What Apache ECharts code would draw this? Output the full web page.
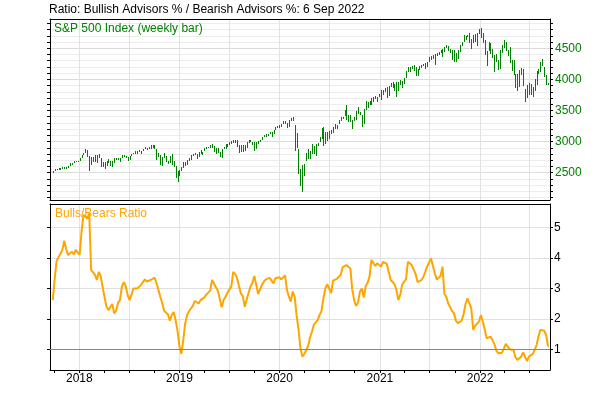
<!DOCTYPE html>
<html>
<head>
<meta charset="utf-8">
<script src="https://cdn.jsdelivr.net/npm/echarts@6/dist/echarts.min.js"></script>
<style>
html, body { margin: 0; padding: 0; background: #fff; }
#chart { width: 600px; height: 400px; }
</style>
</head>
<body>
<div id="chart"></div>
<script>
// weekly bars, one per week starting from this date
var startDate = "2017-09-26";

// S&P 500 weekly low / high
var spxLow = [
    2496, 2520, 2544, 2547, 2544, 2566, 2566, 2557, 2575, 2600, 2624, 2652, 2676, 2673,
    2682, 2737, 2780, 2808, 2759, 2533, 2622, 2676, 2675, 2647, 2741, 2585, 2593, 2553, 2610, 2660, 2612, 2594,
    2655, 2701, 2707, 2676, 2743, 2753, 2743, 2691, 2698, 2768, 2793, 2799, 2803, 2826, 2802, 2853, 2877, 2864,
    2877, 2886, 2904, 2874, 2710, 2755, 2628, 2603, 2737, 2670, 2631, 2649, 2621, 2593, 2409, 2347, 2444,
    2525, 2571, 2612, 2630, 2682, 2705, 2764, 2780, 2723, 2750, 2800, 2785, 2848, 2873, 2891, 2896, 2900, 2825,
    2801, 2822, 2750, 2728, 2876, 2885, 2911, 2952, 2960, 2975, 2981, 2914, 2822, 2825, 2834, 2853, 2892, 2979,
    2985, 2939, 2855, 2874, 2964, 2995, 3024, 3066, 3079, 3091, 3117, 3070, 3128, 3183, 3223, 3213,
    3236, 3282, 3280, 3214, 3236, 3338, 3328, 2855, 2901, 2478, 2280, 2192, 2447, 2680, 2720, 2727, 2797, 2797,
    2766, 2933, 2990, 3045, 2936, 2965, 3001, 3036, 3127, 3143, 3202, 3203, 3287, 3328, 3363, 3407, 3349, 3310,
    3310, 3209, 3323, 3350, 3440, 3419, 3233, 3279, 3511, 3543, 3582, 3595, 3634, 3680, 3636, 3720,
    3663, 3753, 3791, 3694, 3725, 3884, 3865, 3805, 3723, 3820, 3905, 3853, 3917, 4020, 4118, 4118, 4160, 4130,
    4057, 4060, 4155, 4185, 4222, 4165, 4200, 4282, 4306, 4321, 4233, 4378, 4385, 4422, 4367, 4442, 4508, 4456,
    4421, 4305, 4280, 4279, 4329, 4446, 4540, 4595, 4630, 4680, 4585, 4495, 4591, 4600, 4531, 4736,
    4662, 4582, 4395, 4222, 4451, 4401, 4335, 4114, 4285, 4157, 4161, 4424, 4506, 4450, 4372, 4269, 4128, 4062,
    3858, 3810, 3875, 4073, 3900, 3637, 3705, 3741, 3742, 3722, 3818, 3911, 4079, 4114, 4218, 4033, 3907, 3903
];
var spxHigh = [
    2519, 2552, 2557, 2575, 2582, 2588, 2598, 2590, 2605, 2657, 2652, 2680, 2695, 2692,
    2743, 2787, 2810, 2873, 2870, 2763, 2754, 2747, 2789, 2787, 2802, 2742, 2674, 2672, 2680, 2718, 2683, 2682,
    2742, 2743, 2742, 2742, 2779, 2791, 2774, 2747, 2764, 2804, 2816, 2848, 2841, 2863, 2855, 2877, 2916, 2900,
    2908, 2941, 2940, 2939, 2887, 2816, 2776, 2756, 2815, 2775, 2694, 2760, 2800, 2685, 2601, 2520, 2540,
    2598, 2675, 2670, 2708, 2738, 2776, 2795, 2814, 2796, 2830, 2860, 2836, 2896, 2910, 2917, 2947, 2955, 2932,
    2892, 2892, 2830, 2876, 2911, 2964, 2959, 2996, 3014, 3018, 3028, 3027, 2945, 2940, 2940, 2940, 2985, 3021,
    3022, 3000, 2990, 2993, 3009, 3027, 3066, 3098, 3121, 3127, 3154, 3150, 3183, 3226, 3248, 3259,
    3282, 3330, 3338, 3293, 3347, 3385, 3393, 3260, 3137, 2882, 2565, 2615, 2641, 2819, 2880, 2844, 2955, 2932,
    2955, 2981, 3068, 3211, 3233, 3155, 3155, 3165, 3187, 3233, 3279, 3272, 3352, 3387, 3400, 3510, 3588, 3425,
    3428, 3342, 3393, 3485, 3550, 3476, 3431, 3529, 3645, 3628, 3645, 3700, 3712, 3726, 3711, 3760,
    3826, 3823, 3859, 3870, 3887, 3937, 3950, 3928, 3960, 3960, 3983, 3978, 4020, 4130, 4191, 4194, 4218, 4238,
    4201, 4172, 4215, 4233, 4249, 4262, 4286, 4356, 4372, 4393, 4415, 4429, 4440, 4469, 4480, 4513, 4545, 4535,
    4485, 4465, 4466, 4429, 4475, 4559, 4608, 4718, 4700, 4718, 4744, 4652, 4713, 4731, 4741, 4808,
    4818, 4749, 4632, 4453, 4595, 4590, 4490, 4390, 4401, 4317, 4465, 4546, 4637, 4593, 4471, 4512, 4308, 4308,
    4082, 4091, 4158, 4177, 4168, 3838, 3913, 3946, 3918, 3875, 4013, 4140, 4167, 4280, 4325, 4203, 4062, 3948
];

// bullish % / bearish % ratio, same weeks
var bullBearRatio = [
    2.62, 3.30, 3.90, 4.03, 4.07, 4.27, 4.57, 4.30, 4.10, 4.10, 4.21, 4.12, 4.27, 4.18, 4.11,
    4.87, 5.42, 5.45, 5.30, 5.47, 3.61, 3.59, 3.45, 3.28, 3.55, 3.41, 3.04, 2.71, 2.40, 2.29,
    2.32, 2.49, 2.18, 2.27, 2.53, 2.62, 3.06, 3.21, 3.08, 2.79, 2.62, 2.79, 3.00, 3.00, 3.00,
    3.02, 3.12, 3.21, 3.30, 3.23, 3.19, 3.28, 3.34, 3.36, 3.19, 2.97, 2.73, 2.53, 2.27, 2.21,
    2.15, 1.94, 2.13, 2.23, 1.96, 1.61, 1.09, 0.85, 1.31, 1.86, 2.13, 2.25, 2.35, 2.43, 2.59,
    2.57, 2.51, 2.62, 2.62, 2.71, 2.80, 2.84, 2.93, 3.28, 3.26, 3.04, 2.93, 2.88, 2.38, 2.62,
    2.73, 2.86, 2.97, 3.06, 3.55, 3.48, 3.34, 3.28, 2.84, 2.75, 2.40, 2.43, 2.86, 3.06, 3.19,
    3.41, 3.12, 2.82, 2.97, 3.12, 3.23, 3.30, 3.34, 3.35, 3.26, 3.17, 3.34, 3.37, 3.37, 3.30,
    3.34, 3.43, 2.95, 2.73, 2.57, 2.90, 2.73, 2.13, 1.66, 1.05, 0.76, 0.84, 0.90, 1.11, 1.39,
    1.58, 1.81, 1.87, 1.96, 2.13, 2.26, 2.68, 3.01, 3.14, 3.15, 2.85, 3.26, 3.28, 3.32, 3.34,
    3.45, 3.70, 3.75, 3.77, 3.77, 3.66, 2.97, 2.62, 2.43, 2.53, 2.90, 3.00, 2.70, 3.08, 3.19,
    3.39, 3.94, 3.98, 3.74, 3.83, 3.85, 3.72, 3.88, 3.85, 3.81, 3.55, 3.28, 3.27, 3.15, 2.95,
    2.62, 2.79, 3.12, 3.23, 3.30, 3.88, 3.90, 3.77, 3.77, 3.48, 3.21, 3.19, 3.28, 3.37, 3.39,
    3.72, 3.74, 3.99, 4.05, 3.50, 3.30, 3.28, 3.41, 3.72, 2.82, 2.73, 2.51, 2.46, 2.26, 2.18,
    1.94, 1.86, 1.86, 1.94, 2.16, 2.49, 2.68, 2.64, 2.35, 1.64, 1.77, 1.77, 1.91, 2.13, 1.91,
    1.66, 1.36, 1.39, 1.42, 1.31, 1.18, 0.96, 0.87, 0.87, 0.89, 1.03, 1.18, 1.20, 1.00, 1.00,
    0.98, 0.74, 0.65, 0.63, 0.76, 0.90, 0.85, 0.61, 0.76, 0.76, 0.84, 0.98, 1.14, 1.42, 1.64,
    1.64, 1.61, 1.47, 1.09
];

var yearLabels = [2018, 2019, 2020, 2021, 2022];
var spxTickLabels = [2500, 3000, 3500, 4000, 4500];
var ratioTickLabels = [1, 2, 3, 4, 5];

var FONT = "'Liberation Sans', Arial, sans-serif";
var GREEN = "#008000";
var ORANGE = "#FFA500";
var DAY = 86400000;
var xMin = Date.UTC(2017, 8, 16);
var xMax = Date.UTC(2022, 8, 13);

var t0 = Date.parse(startDate + "T00:00:00Z");
var weeks = spxLow.map(function (v, i) { return t0 + i * 7 * DAY; });
var barData = weeks.map(function (t, i) { return [t, spxLow[i], spxHigh[i]]; });
var ratioData = weeks.map(function (t, i) { return [t, bullBearRatio[i]]; });

function monthStarts(step) {
    var out = [];
    for (var y = 2017; y <= 2022; y++) {
        for (var m = 0; m < 12; m += step) {
            var t = Date.UTC(y, m, 1);
            if (t > xMin && t < xMax) out.push(t);
        }
    }
    return out;
}
var halfYears = monthStarts(6);
var quarters = monthStarts(3);
var yearTicks = yearLabels.map(function (y) { return Date.UTC(y, 0, 1); });
var spxMinor = [];
for (var v = 2100; v <= 4900; v += 100) spxMinor.push(v);

// x axes are plain value axes holding timestamps
function timeAxis(grid, pos, extra) {
    return Object.assign({
        type: "value", gridIndex: grid, position: pos, min: xMin, max: xMax,
        axisLine: { show: true, lineStyle: { color: "#000", width: 1 } },
        axisTick: { show: false },
        axisLabel: { show: false },
        splitLine: { show: false }
    }, extra || {});
}
function valueAxis(grid, pos, min, max, extra) {
    return Object.assign({
        type: "value", gridIndex: grid, position: pos, min: min, max: max,
        axisLine: { show: true, lineStyle: { color: "#000", width: 1 } },
        axisTick: { show: false },
        axisLabel: { show: false },
        splitLine: { show: false }
    }, extra || {});
}
function plain(v) { return String(v); }

var chart = echarts.init(document.getElementById("chart"));
chart.setOption({
    animation: false,
    backgroundColor: "#fff",
    textStyle: { fontFamily: FONT },
    title: [
        { text: "Ratio: Bullish Advisors % / Bearish Advisors %: 6 Sep 2022", left: 49, top: 4, padding: 0,
          textStyle: { fontSize: 12, fontWeight: "normal", color: "#000", fontFamily: FONT } },
        { text: "S&P 500 Index (weekly bar)", left: 54, top: 23, padding: 0,
          textStyle: { fontSize: 12, fontWeight: "normal", color: GREEN, fontFamily: FONT } },
        { text: "Bulls/Bears Ratio", left: 55, top: 208, padding: 0,
          textStyle: { fontSize: 12, fontWeight: "normal", color: ORANGE, fontFamily: FONT } }
    ],
    grid: [
        { left: 50, right: 50, top: 19, height: 181, outerBoundsMode: "none" },
        { left: 50, right: 50, top: 204, height: 166, outerBoundsMode: "none" }
    ],
    xAxis: [
        timeAxis(0, "bottom", {
            axisTick: { show: false, customValues: halfYears },
            splitLine: { show: true, lineStyle: { color: "#e2e2e2", width: 1 } }
        }),
        timeAxis(0, "top"),
        timeAxis(1, "bottom", {
            axisTick: { show: true, customValues: quarters, length: 3, lineStyle: { color: "#000" } },
            axisLabel: {
                show: true, customValues: yearTicks, margin: 3, color: "#000", fontSize: 12, fontFamily: FONT,
                formatter: function (val) { return String(new Date(val).getUTCFullYear()); }
            }
        }),
        timeAxis(1, "bottom", {
            axisLine: { show: false },
            axisTick: { show: false, customValues: halfYears },
            splitLine: { show: true, lineStyle: { color: "#e2e2e2", width: 1 } }
        }),
        timeAxis(1, "top")
    ],
    yAxis: [
        valueAxis(0, "right", 2060, 4970, {
            axisTick: { show: true, customValues: spxMinor, length: 3, lineStyle: { color: "#000" } },
            axisLabel: { show: true, customValues: spxTickLabels, margin: 5, color: GREEN, fontSize: 12,
                         fontFamily: FONT, formatter: plain },
            splitLine: { show: true, lineStyle: { color: "#ededed", width: 1 } }
        }),
        valueAxis(0, "left", 2060, 4970, {
            axisTick: { show: true, customValues: spxMinor, length: 3, lineStyle: { color: "#000" } }
        }),
        valueAxis(0, "right", 2060, 4970, {
            axisLine: { show: false },
            axisTick: { show: false, customValues: spxTickLabels },
            splitLine: { show: true, lineStyle: { color: "#dcdcdc", width: 1 } }
        }),
        valueAxis(1, "right", 0.32, 5.78, {
            axisTick: { show: true, customValues: ratioTickLabels, length: 3, lineStyle: { color: "#000" } },
            axisLabel: { show: true, customValues: ratioTickLabels, margin: 4, color: "#000", fontSize: 12,
                         fontFamily: FONT, formatter: plain },
            splitLine: { show: true, lineStyle: { color: "#e0e0e0", width: 1 } }
        }),
        valueAxis(1, "left", 0.32, 5.78, {
            axisTick: { show: true, customValues: ratioTickLabels, length: 3, lineStyle: { color: "#000" } }
        })
    ],
    series: [
        {
            name: "S&P 500",
            type: "custom",
            xAxisIndex: 0,
            yAxisIndex: 0,
            clip: true,
            encode: { x: 0, y: [1, 2] },
            data: barData,
            renderItem: function (params, api) {
                var lo = api.coord([api.value(0), api.value(1)]);
                var hi = api.coord([api.value(0), api.value(2)]);
                var x = Math.round(lo[0]) + 0.5;
                return {
                    type: "line",
                    shape: { x1: x, y1: Math.round(lo[1]), x2: x, y2: Math.round(hi[1]) },
                    style: { stroke: GREEN, lineWidth: 1 }
                };
            }
        },
        {
            name: "Bulls/Bears Ratio",
            type: "line",
            xAxisIndex: 2,
            yAxisIndex: 3,
            data: ratioData,
            showSymbol: false,
            symbol: "none",
            lineStyle: { color: ORANGE, width: 2 },
            markLine: {
                silent: true,
                symbol: "none",
                label: { show: false },
                lineStyle: { color: "#888", width: 1, type: "solid" },
                data: [{ yAxis: 1 }]
            },
            z: 3
        }
    ]
});
</script>
</body>
</html>
